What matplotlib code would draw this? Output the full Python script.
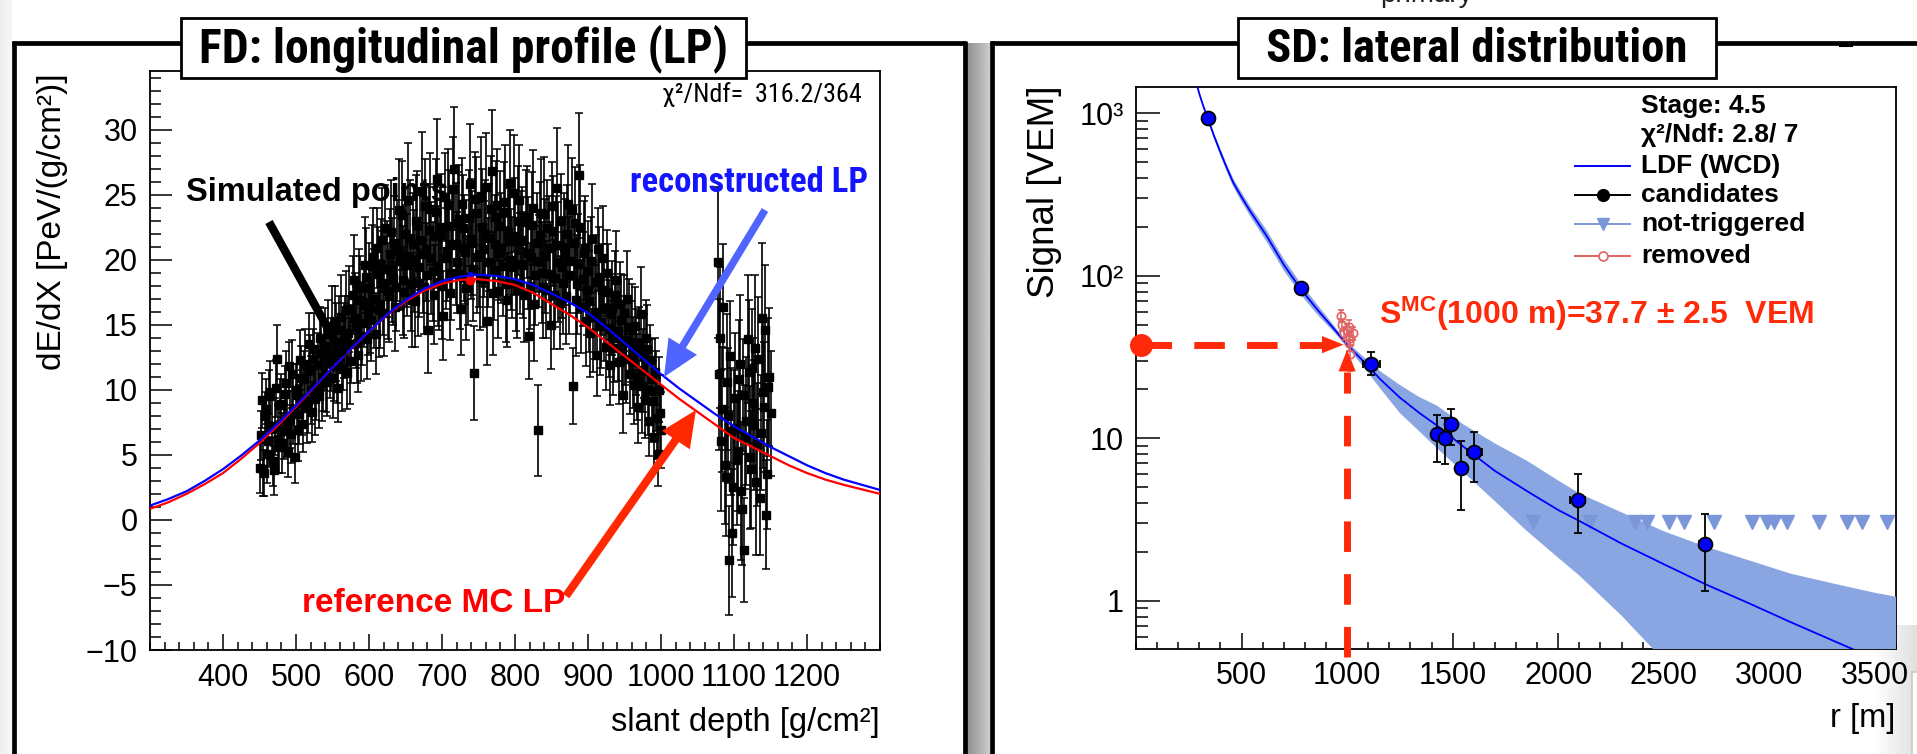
import os
import numpy as np
import matplotlib
matplotlib.use("Agg")
import matplotlib.pyplot as plt
from matplotlib import font_manager
from matplotlib.font_manager import FontProperties
from matplotlib.patches import Rectangle, FancyArrowPatch
from matplotlib.lines import Line2D
import matplotlib.ticker as mticker

# ======================= DATA: FD longitudinal profile =======================
# profile bins (two interleaved read-outs of the same depth range)
lp_seg1_start, lp_seg1_stop, lp_step = 450, 1000, 3
lp_seg1b_start, lp_seg1b_stop = 451.5, 1001
lp_dedx_1 = [
    4.0, 9.2, 3.6, 8.5, 6.1, 9.8, 4.5, 7.2, 12.4, 5.6,
    8.9, 6.8, 10.5, 5.2, 7.7, 11.2, 4.8, 9.6, 8.1, 10.9,
    7.4, 12.0, 9.1, 11.6, 8.3, 13.1, 10.2, 9.5, 12.8, 11.0,
    13.4, 10.6, 12.2, 14.9, 11.8, 13.7, 10.1, 15.6, 12.9, 14.2,
    11.3, 16.2, 13.5, 18.4, 14.8, 12.7, 16.9, 15.1, 19.6, 13.9,
    17.8, 15.4, 20.2, 14.3, 18.9, 16.6, 21.5, 15.9, 19.3, 17.2,
    22.1, 18.6, 16.4, 20.7, 19.9, 23.4, 17.5, 20.3, 24.6, 18.1,
    21.2, 16.8, 22.7, 19.4, 25.3, 17.9, 20.8, 14.6, 23.9, 19.1,
    21.8, 26.2, 18.3, 22.5, 15.7, 20.1, 24.2, 17.4, 21.1, 27.0,
    19.8, 23.1, 16.2, 22.4, 20.6, 18.7, 25.8, 21.3, 11.3, 23.6,
    20.4, 24.9, 18.5, 22.0, 15.3, 21.7, 26.8, 19.2, 23.3, 17.6,
    22.6, 19.5, 24.4, 16.9, 21.4, 20.0, 25.1, 18.2, 23.0, 19.7,
    21.5, 17.3, 22.9, 14.1, 20.2, 24.0, 18.8, 6.9, 21.9, 19.0,
    23.5, 17.7, 20.9, 15.0, 22.2, 18.6, 25.5, 16.7, 19.4, 21.0,
    17.2, 24.3, 19.9, 10.3, 22.8, 18.1, 26.5, 16.4, 20.5, 15.3,
    19.1, 14.4, 21.6, 16.0, 12.7, 18.7, 15.2, 20.1, 13.3, 17.5,
    11.9, 16.3, 14.0, 18.4, 12.1, 15.4, 9.6, 13.8, 17.0, 11.2,
    14.6, 10.4, 12.9, 8.7, 15.8, 11.5, 9.2, 13.1, 7.6, 10.8,
    6.4, 9.9, 5.1, 8.2]
lp_dedx_1b = [
    6.5, 3.9, 8.0, 5.1, 9.5, 7.0, 3.8, 10.1, 6.2, 8.8,
    5.9, 9.7, 7.3, 11.8, 6.6, 8.4, 10.0, 6.9, 12.3, 9.0,
    10.8, 8.6, 13.5, 10.0, 12.4, 9.3, 11.9, 14.0, 10.5, 12.6,
    11.2, 14.3, 12.7, 10.9, 15.3, 12.0, 14.6, 11.6, 13.8, 16.1,
    14.4, 12.2, 17.3, 15.5, 13.6, 17.9, 14.1, 16.5, 18.7, 15.8,
    16.3, 19.5, 17.0, 20.9, 16.1, 19.7, 18.2, 22.4, 17.6, 20.4,
    19.2, 21.3, 17.9, 23.8, 20.0, 18.4, 22.0, 19.6, 21.7, 16.9,
    19.9, 23.0, 18.2, 21.5, 20.4, 24.1, 18.8, 22.3, 20.1, 17.3,
    23.7, 19.5, 21.9, 18.0, 24.8, 20.7, 22.6, 19.0, 25.4, 21.2,
    22.8, 18.9, 24.3, 20.9, 17.8, 23.2, 21.6, 19.3, 24.7, 20.2,
    18.6, 22.5, 20.8, 25.6, 19.8, 23.9, 17.4, 21.2, 24.2, 20.5,
    20.9, 23.7, 18.1, 22.1, 25.9, 19.4, 21.8, 17.7, 24.6, 21.4,
    19.6, 23.3, 20.5, 18.0, 22.7, 16.6, 21.3, 19.9, 23.6, 17.9,
    20.3, 22.4, 18.9, 24.1, 17.3, 21.1, 19.8, 23.0, 18.2, 20.6,
    22.0, 18.8, 23.8, 21.3, 16.9, 19.7, 22.5, 18.5, 20.9, 17.7,
    16.8, 19.9, 15.6, 18.3, 20.8, 14.9, 17.7, 16.2, 19.0, 14.7,
    15.8, 13.2, 17.3, 14.5, 16.6, 13.1, 15.9, 12.4, 14.8, 13.7,
    12.1, 14.9, 11.0, 13.6, 10.3, 12.6, 14.0, 9.9, 12.3, 9.1,
    11.4, 7.8, 10.0, 6.9]
lp_err_1 = [
    1.9, 2.1, 1.8, 2.3, 2.0, 2.4, 1.9, 2.2, 2.6, 2.0,
    2.3, 2.1, 2.5, 1.9, 2.2, 2.6, 2.0, 2.4, 2.3, 2.5,
    2.2, 2.7, 2.4, 2.6, 2.3, 2.8, 2.5, 2.4, 2.9, 2.6,
    2.9, 2.6, 2.8, 3.1, 2.7, 3.0, 2.6, 3.2, 2.9, 3.0,
    2.8, 3.3, 3.0, 3.5, 3.1, 2.9, 3.4, 3.2, 3.7, 3.1,
    3.5, 3.2, 3.8, 3.1, 3.6, 3.4, 4.0, 3.3, 3.7, 3.5,
    4.0, 3.6, 3.4, 3.9, 3.8, 4.2, 3.5, 3.9, 4.4, 3.6,
    3.9, 3.5, 4.1, 3.8, 4.5, 3.6, 4.0, 3.3, 4.3, 3.8,
    4.0, 4.6, 3.7, 4.1, 3.4, 3.9, 4.3, 3.6, 4.0, 4.7,
    3.9, 4.2, 3.5, 4.1, 4.0, 3.7, 4.6, 4.0, 3.6, 4.3,
    4.0, 4.5, 3.7, 4.1, 3.4, 4.1, 4.7, 3.8, 4.3, 3.6,
    4.2, 3.8, 4.4, 3.6, 4.1, 3.9, 4.5, 3.7, 4.2, 3.9,
    4.1, 3.6, 4.3, 3.3, 4.0, 4.4, 3.8, 3.5, 4.1, 3.9,
    4.4, 3.7, 4.0, 3.4, 4.2, 3.8, 4.6, 3.6, 3.9, 4.1,
    3.7, 4.5, 4.0, 2.9, 4.3, 3.8, 4.8, 3.6, 4.0, 3.5,
    3.9, 3.4, 4.2, 3.6, 3.2, 3.8, 3.5, 4.0, 3.3, 3.7,
    3.1, 3.6, 3.4, 3.8, 3.2, 3.5, 2.9, 3.4, 3.7, 3.1,
    3.5, 3.0, 3.3, 2.8, 3.6, 3.2, 2.9, 3.4, 2.7, 3.1,
    2.6, 3.1, 2.5, 2.9]
lp_seg2_start, lp_seg2_stop = 1078, 1151
lp_seg2b_start, lp_seg2b_stop = 1079.5, 1150
lp_dedx_2 = [19.8, 14.0, 8.5, 4.2, 10.6, -3.1, 6.8, 2.5, 9.4, 5.3,
             12.0, 0.8, -2.3, 7.6, 11.4, 3.9, 9.0, 13.2, 5.8, 1.7,
             15.5, 8.7, 0.4, 10.2, 8.2]
lp_dedx_2b = [11.2, 6.1, 16.4, 3.3, 8.0, 12.6, -1.0, 7.1, 4.6, 10.8,
              2.2, 9.6, 6.4, 13.9, 4.8, 11.7, 7.3, 2.9, 12.4, 6.7,
              9.8, 14.6, 3.5, 11.0]
lp_err_2 = [5.8, 5.4, 4.8, 4.5, 5.2, 4.2, 4.9, 4.4, 5.0, 4.6,
            5.3, 4.3, 4.0, 4.9, 5.5, 4.5, 5.0, 5.6, 4.7, 4.4,
            5.8, 5.0, 4.2, 5.3, 4.8]

curve_depth = [300, 325, 350, 375, 400, 425, 450, 475, 500, 525, 550, 575,
               600, 625, 650, 675, 700, 725, 750, 775, 800, 825, 850, 875,
               900, 925, 950, 975, 1000, 1025, 1050, 1075, 1100, 1125, 1150,
               1175, 1200, 1225, 1250, 1275, 1300]
reconstructed_lp = [1.10, 1.60, 2.20, 3.00, 3.90, 4.95, 6.10, 7.40, 8.80, 10.25,
                    11.70, 13.15, 14.50, 15.80, 16.90, 17.75, 18.35, 18.70, 18.85,
                    18.75, 18.50, 18.05, 17.40, 16.70, 15.90, 14.80, 13.60, 12.40,
                    11.20, 10.10, 9.10, 8.10, 7.20, 6.40, 5.60, 4.90, 4.20, 3.60,
                    3.10, 2.70, 2.30]
reference_lp = [0.85, 1.35, 2.00, 2.75, 3.60, 4.70, 5.90, 7.25, 8.70, 10.20,
                11.70, 13.10, 14.50, 15.75, 16.80, 17.60, 18.15, 18.45, 18.50,
                18.35, 18.05, 17.45, 16.60, 15.75, 14.80, 13.70, 12.60, 11.50,
                10.40, 9.30, 8.30, 7.30, 6.30, 5.60, 4.90, 4.20, 3.60, 3.10,
                2.70, 2.35, 2.00]
xmax_depth, xmax_rec, xmax_ref = 738, 18.9, 18.45
lp_xticks = [400, 500, 600, 700, 800, 900, 1000, 1100, 1200]
lp_yticks = [-10, -5, 0, 5, 10, 15, 20, 25, 30]

# ======================= DATA: SD lateral distribution =======================
ldf_r = [270, 285, 300, 320, 340, 370, 400, 430, 460, 500, 540, 620, 700, 780,
         860, 940, 1000, 1080, 1160, 1250, 1340, 1425, 1550, 1700, 1850, 2000,
         2100, 2300, 2500, 2700, 2900, 3100, 3300, 3500, 3600]
ldf_s = [1820, 1549, 1318, 1096, 933, 724, 575, 462, 376, 305, 251, 175, 117, 83,
         61.7, 46.8, 37.7, 29.5, 22.9, 17.8, 14.4, 12.0, 8.9, 6.3, 4.75, 3.62,
         3.10, 2.25, 1.68, 1.26, 0.97, 0.74, 0.57, 0.44, 0.39]
band_hi = [1862, 1585, 1349, 1127, 966, 753, 602, 486, 398, 325, 269, 190, 127,
           90, 66.1, 49.0, 39.0, 31.6, 25.7, 21.3, 18.0, 15.9, 12.2, 9.3, 7.3,
           5.5, 4.58, 3.5, 2.68, 2.15, 1.78, 1.47, 1.28, 1.12, 1.06]
band_lo = [1780, 1514, 1288, 1066, 901, 696, 549, 439, 355, 286, 234, 161, 108,
           76.6, 57.6, 44.7, 36.4, 27.3, 20.0, 14.3, 11.1, 8.7, 6.2, 4.1, 2.7,
           1.84, 1.43, 0.81, 0.43, 0.25, 0.15, 0.10, 0.06, 0.04, 0.03]
cand_r = [339, 783, 1114, 1425, 1466, 1492, 1539, 1602, 2092, 2696]
cand_s = [940, 84.7, 28.7, 10.6, 10.1, 12.25, 6.56, 8.2, 4.2, 2.25]
cand_s_lo = [15, 5.0, 4.3, 3.5, 3.2, 3.2, 2.96, 2.8, 1.6, 1.1]
cand_s_hi = [15, 5.5, 5.1, 3.3, 3.2, 3.0, 3.0, 2.8, 1.8, 1.15]
cand_r_err = [0, 0, 40, 25, 25, 30, 0, 35, 35, 30]
removed_r = [970, 975, 983, 998, 1007, 1012, 1015, 1030, 1010]
removed_s = [56.6, 50.0, 44.5, 46.7, 48.7, 33.0, 41.3, 44.3, 38.5]
removed_err = [5.0, 4.5, 4.0, 4.0, 4.5, 7.0, 4.0, 4.0, 4.0]
nontrig_r = [1880, 2152, 2365, 2420, 2523, 2598, 2736, 2917, 2988, 3020, 3083,
             3233, 3368, 3439, 3557]
nontrig_s = [3.06] * len(nontrig_r)
s1000, s1000_err = 37.7, 2.5
sd_xticks = [500, 1000, 1500, 2000, 2500, 3000, 3500]
sd_yticks = [1, 10, 100, 1000]
sd_yticklabels = ["1", "10", "10²", "10³"]

# ======================= fonts =======================
names = {f.name for f in font_manager.fontManager.ttflist}
SANS = "Liberation Sans" if "Liberation Sans" in names else "DejaVu Sans"
plt.rcParams["font.family"] = [SANS, "DejaVu Sans"]
plt.rcParams["mathtext.fontset"] = "custom"
plt.rcParams["mathtext.rm"] = SANS
plt.rcParams["mathtext.bf"] = SANS + ":bold"
plt.rcParams["mathtext.it"] = SANS + ":italic"


def find_font(patterns):
    files = [f.fname for f in font_manager.fontManager.ttflist]
    for pat in patterns:
        for fn in files:
            if os.path.basename(fn).lower().startswith(pat.lower()):
                return fn
    return None


cb = find_font(["LiberationSansNarrow-Bold.", "RobotoCondensed-Bold.",
                "OpenSansCondensed-Bold", "OpenSans_Condensed-Bold",
                "DejaVuSansCondensed-Bold."])
cr = find_font(["LiberationSansNarrow-Regular", "RobotoCondensed-Regular",
                "OpenSans_Condensed-Regular", "DejaVuSansCondensed."])
COND_BOLD = FontProperties(fname=cb) if cb else FontProperties(family=SANS, weight="bold")
COND_REG = FontProperties(fname=cr) if cr else FontProperties(family=SANS)

W, H = 1917, 754
fig = plt.figure(figsize=(W / 100, H / 100), dpi=100)
fig.patch.set_facecolor("white")
renderer = fig.canvas.get_renderer()


def fit_width(t, target_px):
    w = t.get_window_extent(renderer).width
    if w > 0:
        t.set_fontsize(t.get_fontsize() * target_px / w)
    return t


def box(x0, y0, x1, y1):
    return [x0 / W, 1 - y1 / H, (x1 - x0) / W, (y1 - y0) / H]


# ---------- background decoration (pixel coordinates) ----------
bg = fig.add_axes([0, 0, 1, 1], zorder=0)
bg.imshow(np.linspace(0.93, 0.97, 20)[None, :], extent=[0, 12, H, 0],
          cmap="gray", vmin=0, vmax=1, aspect="auto")
bg.imshow(np.linspace(0.55, 0.80, 40)[None, :], extent=[966, 990, H, 43],
          cmap="gray", vmin=0, vmax=1, aspect="auto")
bg.imshow(np.linspace(1.0, 0.88, 20)[None, :], extent=[1872, W, H, 625],
          cmap="gray", vmin=0, vmax=1, aspect="auto")
bg.set_xlim(0, W)
bg.set_ylim(H, 0)
bg.axis("off")
frame_kw = dict(color="black", lw=3.4, solid_capstyle="butt")
bg.add_line(Line2D([14, 14], [41, H], **frame_kw))
bg.add_line(Line2D([12, 966], [42.5, 42.5], **frame_kw))
bg.add_line(Line2D([964.5, 964.5], [41, H], **frame_kw))
bg.add_line(Line2D([992, 992], [41, H], **frame_kw))
bg.add_line(Line2D([990, W], [42.5, 42.5], **frame_kw))
bg.add_line(Line2D([1840, 1852], [46, 46], color="black", lw=1.5))
bg.add_patch(Rectangle((1912, 672), 20, 100, facecolor="white",
                       edgecolor="#c8c8c8", lw=1.2))
bg.text(1380, 2, "primary", fontsize=20, color="#222222", va="baseline",
        ha="left", clip_on=False)


def style_axes(ax, ymaj, ymin, xmaj, xmin):
    ax.set_facecolor("white")
    for s in ax.spines.values():
        s.set_linewidth(1.3)
        s.set_color("black")
    ax.tick_params(which="both", direction="in", top=False, right=False,
                   width=1.1, labelsize=22, colors="black")
    ax.tick_params(axis="y", which="major", length=ymaj, pad=9)
    ax.tick_params(axis="y", which="minor", length=ymin)
    ax.tick_params(axis="x", which="major", length=xmaj, pad=9)
    ax.tick_params(axis="x", which="minor", length=xmin)


# ======================= Left panel: FD =======================
axL = fig.add_axes(box(150, 71, 880, 650), zorder=2)
style_axes(axL, 15.8, 7.9, 11.5, 5.8)
d1 = np.arange(lp_seg1_start, lp_seg1_stop, lp_step)
d1b = np.arange(lp_seg1b_start, lp_seg1b_stop, lp_step)[:len(lp_dedx_1b)]
d2 = np.arange(lp_seg2_start, lp_seg2_stop, lp_step)
d2b = np.arange(lp_seg2b_start, lp_seg2b_stop, lp_step)[:len(lp_dedx_2b)]
series = ((d1, lp_dedx_1, lp_err_1),
          (d1b, lp_dedx_1b, lp_err_1[:len(d1b)]),
          (d2, lp_dedx_2, lp_err_2),
          (d2b, lp_dedx_2b[:len(d2b)], lp_err_2[:len(d2b)]))
for d, v, e in series:
    axL.errorbar(d, v[:len(d)], yerr=e[:len(d)], fmt="s", ms=5.5, color="black",
                 ecolor="black", elinewidth=1.2, capsize=2.8, capthick=1.1,
                 zorder=3)
axL.plot(curve_depth, reference_lp, color="#ff0000", lw=1.6, zorder=4)
axL.plot(curve_depth, reconstructed_lp, color="#0000ff", lw=1.6, zorder=4)
axL.plot([xmax_depth], [xmax_ref], "o", color="#ff0000", ms=6, zorder=5)
axL.plot([xmax_depth], [xmax_rec], "o", color="#0000ff", ms=3, zorder=5)
axL.set_xlim(300, 1300)
axL.set_ylim(-10, 34.5)
axL.set_xticks(lp_xticks)
axL.set_yticks(lp_yticks)
axL.xaxis.set_minor_locator(mticker.MultipleLocator(20))
axL.yaxis.set_minor_locator(mticker.MultipleLocator(1))

# ======================= Right panel: SD =======================
axR = fig.add_axes(box(1136, 87, 1896, 649), zorder=2)
style_axes(axR, 17, 8.6, 11.5, 5.0)
axR.set_yscale("log")
axR.fill_between(ldf_r, band_lo, band_hi, color="#8aa6e2", lw=0, zorder=3)
axR.plot(nontrig_r, nontrig_s, "v", color="#7b96d9", ms=10, mec="#7b96d9",
         zorder=3.5)
axR.plot(ldf_r, ldf_s, color="#0000ff", lw=1.3, zorder=4)
axR.errorbar(removed_r, removed_s, yerr=removed_err, fmt="o", ms=6,
             mfc="none", mec="#e06262", ecolor="#e06262", mew=1.2,
             elinewidth=1.1, capsize=2.2, zorder=5)
axR.errorbar(cand_r, cand_s, yerr=[cand_s_lo, cand_s_hi], xerr=cand_r_err,
             fmt="o", ms=10, mfc="#0000ff", mec="black", mew=1.3,
             ecolor="black", elinewidth=1.3, capsize=2.6, capthick=1.3,
             zorder=6)
axR.set_xlim(0, 3600)
axR.set_ylim(0.505, 1452)
axR.set_xticks(sd_xticks)
axR.xaxis.set_minor_locator(mticker.MultipleLocator(100))
axR.set_yticks(sd_yticks)
axR.set_yticklabels(sd_yticklabels)
axR.yaxis.set_minor_locator(mticker.LogLocator(base=10, subs=np.arange(2, 10)))
axR.yaxis.set_minor_formatter(mticker.NullFormatter())
axR.set_xticklabels([str(t) for t in sd_xticks])

# red dashed guides to S(1000)
RED = "#ff2a0a"
dash_kw = dict(color=RED, lw=5.0, ls=(0, (4.4, 3.2)), dash_capstyle="butt",
               zorder=7, clip_on=False)
axR.plot([23, 880], [s1000, s1000], **dash_kw)
axR.plot([1000, 1000], [0.452, 25.7], **dash_kw)
axR.plot([23], [s1000], "o", color=RED, ms=15.5, zorder=8, clip_on=False)
head_style = "-|>,head_length=1.55,head_width=0.62"
axR.add_patch(FancyArrowPatch((880, s1000), (983, s1000), arrowstyle=head_style,
                              mutation_scale=10, color=RED, lw=0, zorder=8,
                              shrinkA=0, shrinkB=0))
axR.add_patch(FancyArrowPatch((1000, 25.7), (1000, 35.0), arrowstyle=head_style,
                              mutation_scale=10, color=RED, lw=0, zorder=8,
                              shrinkA=0, shrinkB=0))

# legend (manual, ROOT style)
leg_lines = [
    ("Stage: 4.5", None, 0.966),
    ("χ²/Ndf: 2.8/ 7", None, 0.914),
    ("LDF (WCD)", "ldf", 0.860),
    ("candidates", "cand", 0.807),
    ("not-triggered", "nt", 0.756),
    ("removed", "rm", 0.700),
]
for label, kind, yy in leg_lines:
    axR.text(0.665, yy, label, transform=axR.transAxes, fontsize=19,
             fontweight="bold", ha="left", va="center", zorder=9)
    if kind is None:
        continue
    lc = {"ldf": "#0000ff", "cand": "black", "nt": "#7b96d9", "rm": "#e06262"}[kind]
    axR.add_line(Line2D([0.578, 0.650], [yy, yy], transform=axR.transAxes,
                        color=lc, lw=1.4, zorder=9))
    if kind == "cand":
        axR.add_line(Line2D([0.614], [yy], transform=axR.transAxes, marker="o",
                            ms=8.5, color="black", zorder=9))
    elif kind == "nt":
        axR.add_line(Line2D([0.614], [yy], transform=axR.transAxes, marker="v",
                            ms=9, color="#7b96d9", zorder=9))
    elif kind == "rm":
        axR.add_line(Line2D([0.614], [yy], transform=axR.transAxes, marker="o",
                            ms=6.5, mfc="white", mec="#e06262", mew=1.2, zorder=9))

# ======================= foreground annotations (pixel coords) =======================
fg = fig.add_axes([0, 0, 1, 1], zorder=5)
fg.set_xlim(0, W)
fg.set_ylim(H, 0)
fg.axis("off")
fg.patch.set_alpha(0)

# axis titles
fg.text(880, 722, "slant depth [g/cm²]", fontsize=23.5, ha="right", va="center")
fg.text(52, 73, "dE/dX [PeV/(g/cm²)]", fontsize=24, rotation=90,
        ha="center", va="top")
fg.text(1895, 719, "r [m]", fontsize=23.5, ha="right", va="center")
fg.text(1045, 85, "Signal [VEM]", fontsize=26.5, rotation=90, ha="center", va="top")

# title boxes
for (x0, x1), title, tw in (((181, 746), "FD: longitudinal profile (LP)", 528),
                            ((1238, 1716), "SD: lateral distribution", 422)):
    fg.add_patch(Rectangle((x0, 18), x1 - x0, 60, facecolor="white",
                           edgecolor="black", lw=2.0, zorder=6))
    t = fg.text((x0 + x1) / 2, 49, title, fontproperties=COND_BOLD,
                fontsize=34, ha="center", va="center", zorder=7)
    fit_width(t, tw)
    if t.get_fontsize() > 40:
        t.set_fontsize(40)

t = fg.text(862, 95, "χ²/Ndf=  316.2/364", fontproperties=COND_REG,
            fontsize=16, ha="right", va="center")
fit_width(t, 200)

# annotations on the FD panel
fg.text(186, 193, "Simulated points", fontsize=23.5, fontweight="bold",
        color="black", ha="left", va="center")
fg.add_line(Line2D([269, 343], [222, 356], color="black", lw=6.0,
                   solid_capstyle="butt"))
t = fg.text(630, 183, "reconstructed LP", fontproperties=COND_BOLD, fontsize=24,
            color="#1414ff", ha="left", va="center")
fit_width(t, 238)
BLUE_AR = "#5064ff"
fg.add_line(Line2D([765, 676], [210, 357], color=BLUE_AR, lw=5.4,
                   solid_capstyle="butt"))
fg.add_patch(FancyArrowPatch((678, 354), (664, 377),
                             arrowstyle="-|>,head_length=2.6,head_width=1.2",
                             mutation_scale=10, color=BLUE_AR, lw=0,
                             shrinkA=0, shrinkB=0))
fg.text(302, 603, "reference MC LP", fontsize=24, fontweight="bold",
        color="#ff0000", ha="left", va="center")
RED_AR = "#ff2800"
fg.add_line(Line2D([566, 684], [596, 428], color=RED_AR, lw=5.8,
                   solid_capstyle="butt"))
fg.add_patch(FancyArrowPatch((682, 431), (696, 410),
                             arrowstyle="-|>,head_length=2.6,head_width=1.2",
                             mutation_scale=10, color=RED_AR, lw=0,
                             shrinkA=0, shrinkB=0))

# S(1000) label
fg.text(1379, 314, r"S$^{\mathbf{MC}}$(1000 m)=37.7 ± 2.5  VEM", fontsize=23,
        fontweight="bold", color=RED, ha="left", va="center")

fig.savefig("out.png", dpi=100, facecolor="white")
